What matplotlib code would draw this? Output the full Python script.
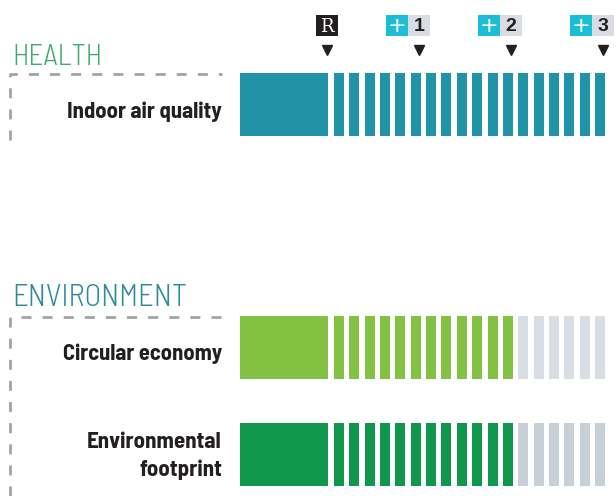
import matplotlib
matplotlib.use('AGG')
import matplotlib.pyplot as plt
from matplotlib import font_manager
from matplotlib.patches import Rectangle

# data
GROUPS = ['HEALTH', 'ENVIRONMENT']
GROUP_COLORS = ['#3DAA6E', '#2E8B9A']
CATEGORIES = ['Indoor air quality', 'Circular economy', 'Environmental\nfootprint']
CATEGORY_GROUP = [0, 1, 1]
FILLED_STEPS = [18, 12, 12]
TOTAL_STEPS = 18
FILL_COLORS = ['#2193A6', '#82C142', '#11964E']
EMPTY_COLORS = ['#D9DEE5', '#D9DEE5', '#C8CFD7']
LEVELS = ['R', '1', '2', '3']
LEVEL_STEPS = [0, 6, 12, 18]

# layout (pixels)
W, H = 616, 496
BLOCK_X0, BLOCK_X1 = 240, 328
BAR_GAP0 = 6
PITCH = 15.35
BAR_W = 10
ROW_H = 63
ROW_Y = [73, 316, 423]
GROUP_TITLE_Y = [65, 306]
GROUP_TITLE_W = [90, 175]
GROUP_BOX_Y = [74, 317]
GROUP_BOX_BOTTOM = [140, 496]
LABEL_RIGHT = 222
LABEL_W = [156, 160, 135]
BADGE_Y, BADGE_H, BADGE_W = 15, 21, 22
ARROW_Y = 50


def pick(cands):
    avail = {f.name for f in font_manager.fontManager.ttflist}
    for c in cands:
        if c in avail:
            return c
    return 'DejaVu Sans'


COND = pick(['Barlow Semi Condensed', 'Barlow Condensed', 'Roboto Condensed',
             'IBM Plex Sans Condensed', 'Open Sans Condensed', 'Liberation Sans Narrow'])


def fit(t, width):
    # scale the font so the text spans the given pixel width
    r = fig.canvas.get_renderer()
    w = t.get_window_extent(renderer=r).width
    t.set_fontsize(t.get_fontsize() * width / w)


fig = plt.figure(figsize=(W / 100, H / 100), dpi=100)
ax = fig.add_axes([0, 0, 1, 1])
ax.set_xlim(0, W)
ax.set_ylim(H, 0)
ax.axis('off')

# group titles and dashed frames
dash = (0, (3.6, 4.0))
for g, name in enumerate(GROUPS):
    t = ax.text(12, GROUP_TITLE_Y[g], name, color=GROUP_COLORS[g], fontsize=21,
                family=COND, fontweight=300, ha='left', va='baseline')
    fit(t, GROUP_TITLE_W[g])
    ax.plot([10, 10, LABEL_RIGHT], [GROUP_BOX_BOTTOM[g], GROUP_BOX_Y[g], GROUP_BOX_Y[g]],
            color='#A3A3A3', lw=2.0, linestyle=dash, solid_joinstyle='miter',
            dash_capstyle='butt')

# category rows
for i, cat in enumerate(CATEGORIES):
    y0 = ROW_Y[i]
    ax.add_patch(Rectangle((BLOCK_X0, y0), BLOCK_X1 - BLOCK_X0, ROW_H,
                           color=FILL_COLORS[i], lw=0))
    for s in range(TOTAL_STEPS):
        c = FILL_COLORS[i] if s < FILLED_STEPS[i] else EMPTY_COLORS[i]
        x = BLOCK_X1 + BAR_GAP0 + s * PITCH
        ax.add_patch(Rectangle((x, y0), BAR_W, ROW_H, color=c, lw=0))
    lines = cat.split('\n')
    base = y0 + ROW_H / 2 + 13 - (len(lines) - 1) * 19
    first = None
    for k, line in enumerate(lines):
        t = ax.text(LABEL_RIGHT, base + k * 28, line, fontsize=17, fontweight='bold',
                    family=COND, color='#231F20', ha='right', va='baseline')
        if first is None:
            fit(t, LABEL_W[i])
            first = t.get_fontsize()
        else:
            t.set_fontsize(first)

# level badges
for lev, step in zip(LEVELS, LEVEL_STEPS):
    cx = BLOCK_X1 - 1 + step * PITCH
    ax.plot([cx], [ARROW_Y], marker='v', color='#231F20', markersize=7, lw=0)
    if lev == 'R':
        ax.add_patch(Rectangle((cx - BADGE_W / 2, BADGE_Y), BADGE_W, BADGE_H,
                               color='#231F20', lw=0))
        ax.text(cx, BADGE_Y + BADGE_H / 2 + 1, lev, color='white', fontsize=13,
                family='DejaVu Serif', ha='center', va='center')
    else:
        ax.add_patch(Rectangle((cx - BADGE_W / 2, BADGE_Y), BADGE_W, BADGE_H,
                               color='#D9DDE3', lw=0))
        ax.add_patch(Rectangle((cx - 3 * BADGE_W / 2, BADGE_Y), BADGE_W, BADGE_H,
                               color='#1CBED6', lw=0))
        ax.text(cx - BADGE_W, BADGE_Y + BADGE_H / 2 + 1, '+', color='white',
                fontsize=16, family='DejaVu Sans', ha='center', va='center')
        ax.text(cx, BADGE_Y + BADGE_H / 2 + 1, lev, color='#231F20', fontsize=14,
                fontweight='bold', family='Liberation Sans', ha='center', va='center')

fig.savefig('out.png', dpi=100)
plt.close(fig)
